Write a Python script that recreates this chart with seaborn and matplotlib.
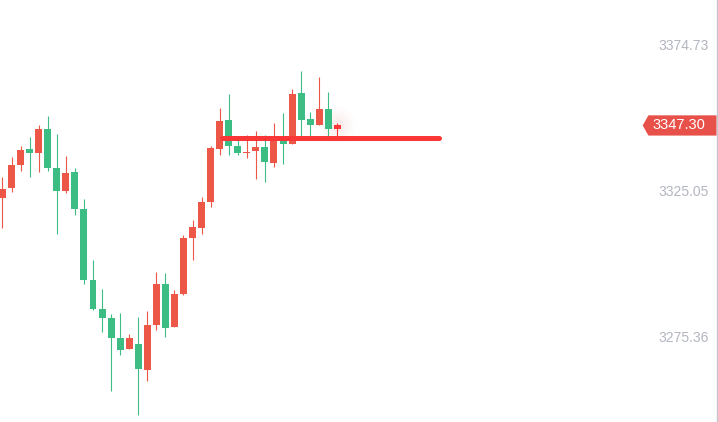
import numpy as np
import pandas as pd
import matplotlib
matplotlib.use("Agg")
import matplotlib.pyplot as plt
import matplotlib.transforms as mtransforms
from matplotlib.patches import Polygon
import seaborn as sns

# =======================================
# Candle data
# =======================================
OPENS = [3322.67, 3326.08, 3333.82, 3339.38, 3337.91, 3346.09, 3332.80, 3324.96,
         3331.44, 3318.82, 3294.62, 3284.73, 3281.66, 3274.85, 3271.10, 3272.80,
         3263.94, 3279.28, 3293.25, 3278.60, 3289.85, 3308.94, 3312.35, 3321.21,
         3339.28, 3349.16, 3340.30, 3337.91, 3338.59, 3339.96, 3334.50, 3342.34,
         3340.98, 3358.37, 3349.50, 3347.46, 3352.91, 3346.09]
HIGHS = [3329.73, 3336.55, 3340.30, 3343.37, 3347.46, 3350.53, 3344.39, 3336.89,
         3332.80, 3322.23, 3301.44, 3291.55, 3283.03, 3283.37, 3276.21, 3282.01,
         3284.05, 3297.35, 3297.00, 3291.21, 3309.96, 3315.07, 3322.91, 3340.30,
         3353.25, 3358.03, 3343.03, 3344.05, 3345.41, 3344.05, 3348.14, 3351.55,
         3359.73, 3365.87, 3351.89, 3363.82, 3358.71, 3348.14]
LOWS = [3312.45, 3324.72, 3331.78, 3329.73, 3331.44, 3331.78, 3310.30, 3324.28,
        3316.78, 3293.25, 3284.39, 3276.89, 3256.78, 3269.05, 3271.10, 3248.60,
        3260.19, 3277.57, 3275.19, 3278.60, 3289.60, 3301.44, 3310.30, 3319.50,
        3337.23, 3337.23, 3337.23, 3336.21, 3329.05, 3328.03, 3333.14, 3334.16,
        3340.98, 3343.71, 3343.71, 3347.46, 3343.71, 3343.71]
CLOSES = [3325.64, 3333.82, 3338.94, 3337.91, 3346.09, 3332.80, 3324.96, 3331.09,
          3318.82, 3294.62, 3284.73, 3281.66, 3274.85, 3270.76, 3274.85, 3264.28,
          3279.28, 3293.25, 3278.26, 3289.85, 3308.94, 3312.69, 3321.21, 3339.62,
          3348.82, 3340.30, 3337.91, 3338.25, 3339.96, 3334.84, 3343.03, 3340.98,
          3358.03, 3349.16, 3347.46, 3352.91, 3346.09, 3347.30]

AXIS_TICKS = [3374.73, 3325.05, 3275.36]
LAST_PRICE = 3347.30
LINE_PRICE = 3342.86
LINE_START = 24.25
LINE_END = 48.2

RED = "#EC5748"
GREEN = "#3CBD84"
LIVE_RED = "#FA3636"

df = pd.DataFrame({"open": OPENS, "high": HIGHS, "low": LOWS, "close": CLOSES})
df["idx"] = np.arange(len(df))
df["up"] = df["close"] >= df["open"]
df["color"] = np.where(df["up"], RED, GREEN)
df.loc[df.index[-1], "color"] = LIVE_RED

# =======================================
# Figure
# =======================================
sns.set_theme(style="white")
plt.rcParams["font.family"] = ["Liberation Sans", "DejaVu Sans"]

fig = plt.figure(figsize=(7.18, 4.22), dpi=100)
ax = fig.add_axes([0, 0, 716.5 / 718, 1])
ax.set_facecolor("white")

# faint glow behind the live candle
last = df.iloc[-1]
for s, a in [(700, 0.012), (420, 0.018), (220, 0.025), (90, 0.035)]:
    sns.scatterplot(x=[last["idx"]], y=[last["close"]], s=s, color=LIVE_RED,
                    alpha=a, edgecolor="none", ax=ax, legend=False, zorder=1)

# wicks
ax.vlines(df["idx"], df["low"], df["high"], colors=df["color"], linewidth=0.8, zorder=2)

# bodies
body_bottom = df[["open", "close"]].min(axis=1)
body_height = (df["close"] - df["open"]).abs().clip(lower=0.4)
ax.bar(df["idx"], body_height, bottom=body_bottom, width=0.77,
       color=df["color"], linewidth=0, zorder=3)

# drawn horizontal line
ax.plot([LINE_START, LINE_END], [LINE_PRICE, LINE_PRICE], color=LIVE_RED,
        linewidth=3.6, solid_capstyle="round", zorder=4)

ax.set_xlim(-0.276, 78.9)
ax.set_ylim(3246.21, 3390.07)

# right price axis with labels inside
ax.yaxis.tick_right()
ax.set_yticks(AXIS_TICKS)
ax.set_yticklabels([f"{v:.2f}" for v in AXIS_TICKS])
ax.tick_params(axis="y", length=0, pad=-5.8, labelsize=10, labelcolor="#B3B6C0")
for lbl in ax.get_yticklabels():
    lbl.set_horizontalalignment("right")
ax.set_xticks([])
for side in ["top", "left", "bottom"]:
    ax.spines[side].set_visible(False)
ax.spines["right"].set_color("#C4C6CF")
ax.spines["right"].set_linewidth(1.0)

# last price tag
trans = mtransforms.blended_transform_factory(ax.transAxes, ax.transData)
hh = 3.45
tag = Polygon([(0.897, LAST_PRICE), (0.905, LAST_PRICE + hh), (1.0, LAST_PRICE + hh),
               (1.0, LAST_PRICE - hh), (0.905, LAST_PRICE - hh)],
              closed=True, transform=trans, facecolor="#E8514A", edgecolor="none",
              zorder=5, clip_on=False)
ax.add_patch(tag)
ax.text(0.985, LAST_PRICE, f"{LAST_PRICE:.2f}", transform=trans, ha="right",
        va="center", color="white", fontsize=10.5, zorder=6)

fig.savefig("out.png", dpi=100, facecolor="white")
